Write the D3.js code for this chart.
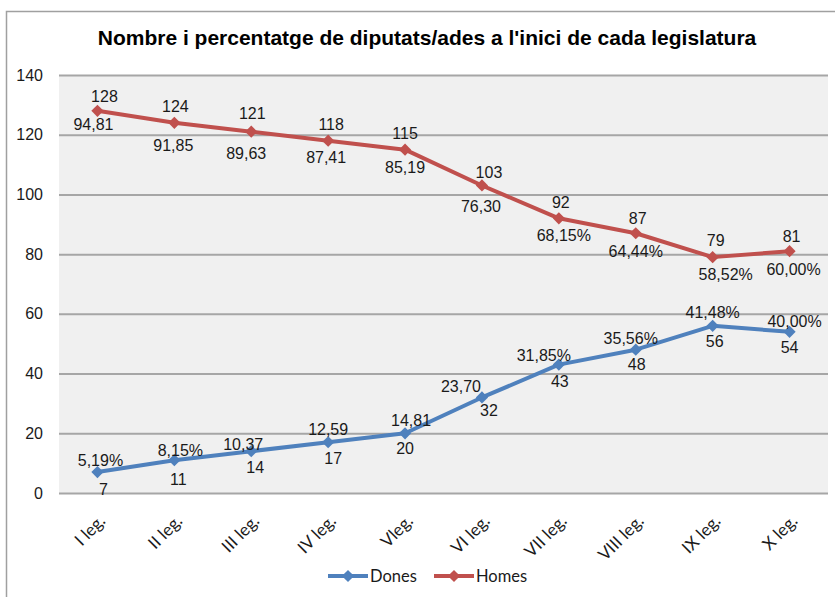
<!DOCTYPE html>
<html>
<head>
<meta charset="utf-8">
<script src="https://cdn.jsdelivr.net/npm/d3@7"></script>
<style>
  html, body { margin: 0; padding: 0; background: #fff; }
  svg { display: block; }
</style>
</head>
<body>
<svg id="chart" width="835" height="597"></svg>
<script>
// ---- data ----
const categories = ["I leg.", "II leg.", "III leg.", "IV leg.", "Vleg.", "VI leg.", "VII leg.", "VIII leg.", "IX leg.", "X leg."];
const dones = [7, 11, 14, 17, 20, 32, 43, 48, 56, 54];
const homes = [128, 124, 121, 118, 115, 103, 92, 87, 79, 81];
const donesPct = ["5,19%", "8,15%", "10,37", "12,59", "14,81", "23,70", "31,85%", "35,56%", "41,48%", "40,00%"];
const homesPct = ["94,81", "91,85", "89,63", "87,41", "85,19", "76,30", "68,15%", "64,44%", "58,52%", "60,00%"];
const yTicks = [0, 20, 40, 60, 80, 100, 120, 140];
const seriesNames = ["Dones", "Homes"];
const title = "Nombre i percentatge de diputats/ades a l'inici de cada legislatura";

// ---- label placement tweaks (layout only, px offsets from the point) ----
const homesValOff = [[7,-14],[1,-16],[1,-18],[3,-16],[0,-16],[7,-13],[2,-16],[2,-15],[3,-17],[2,-15]];
const homesPctOff = [[-4,14],[-1,23],[-5,22],[-2,17],[0,18],[-1,21],[5,17],[0,18],[13,17],[4,18]];
const donesPctOff = [[3,-12],[6,-10],[-8,-7],[0,-13],[6,-13],[-21,-11],[-15,-9],[-5,-11],[0,-13],[5,-10]];
const donesValOff = [[6,17],[4,19],[4,16],[5,16],[0,15],[7,13],[1,17],[1,15],[2,16],[0,16]];

const colors = { Dones: "#4f81bd", Homes: "#c0504d" };

const svg = d3.select("#chart");
const margin = { left: 59, right: 835 - 828, top: 75, bottom: 597 - 493 };
const W = 835, H = 597;

// outer chart border (left & top visible)
svg.append("path")
  .attr("d", `M6.5,597 L6.5,11.5 L835,11.5`)
  .attr("fill", "none").attr("stroke", "#a0a0a0").attr("stroke-width", 1.5);

const x = d3.scaleBand().domain(categories).range([margin.left, W - margin.right]).padding(0);
const y = d3.scaleLinear().domain([0, 140]).range([H - margin.bottom, margin.top]);
const cx = d => x(d) + x.bandwidth() / 2;

// plot area
svg.append("rect")
  .attr("x", margin.left).attr("y", margin.top)
  .attr("width", W - margin.right - margin.left)
  .attr("height", H - margin.bottom - margin.top)
  .attr("fill", "#f0f0f0");

// gridlines via axis
const grid = svg.append("g")
  .attr("transform", `translate(${margin.left},0)`)
  .call(d3.axisLeft(y).tickValues(yTicks).tickSize(-(W - margin.right - margin.left)).tickFormat(""));
grid.select(".domain").remove();
grid.selectAll("line").attr("stroke", "#a6a6a6").attr("stroke-width", 2);

// y axis labels
const yAxis = svg.append("g")
  .attr("transform", `translate(${margin.left},0)`)
  .call(d3.axisLeft(y).tickValues(yTicks).tickSize(0).tickPadding(16));
yAxis.select(".domain").remove();
yAxis.selectAll("text")
  .attr("font-family", "'Liberation Sans', Arial, sans-serif")
  .attr("font-size", 16).attr("fill", "#1a1a1a");

// x axis labels
const xAxis = svg.append("g")
  .attr("transform", `translate(0,${H - margin.bottom})`)
  .call(d3.axisBottom(x).tickSize(0).tickPadding(0));
xAxis.select(".domain").remove();
xAxis.selectAll("text")
  .attr("font-family", "Lato, 'Open Sans', sans-serif")
  .attr("font-size", 17).attr("fill", "#1a1a1a")
  .attr("text-anchor", "end")
  .attr("dy", 0)
  .attr("y", 0)
  .attr("transform", "translate(9,29) rotate(-45)");

// title
svg.append("text")
  .attr("x", 427).attr("y", 45)
  .attr("text-anchor", "middle")
  .attr("font-family", "'Liberation Sans', Arial, sans-serif")
  .attr("font-weight", "bold").attr("font-size", 21)
  .attr("fill", "#000")
  .text(title);

// series
const line = d3.line().x((d, i) => cx(categories[i])).y(d => y(d));
const diamond = d3.symbol().type(d3.symbolDiamond2).size(95);

[["Homes", homes], ["Dones", dones]].forEach(([name, vals]) => {
  svg.append("path").datum(vals)
    .attr("d", line)
    .attr("fill", "none").attr("stroke", colors[name]).attr("stroke-width", 4)
    .attr("stroke-linejoin", "round");
  svg.append("g").selectAll("path").data(vals).join("path")
    .attr("d", diamond)
    .attr("transform", (d, i) => `translate(${cx(categories[i])},${y(d)})`)
    .attr("fill", colors[name]);
});

// data labels
const labelFont = "'Liberation Sans', Arial, sans-serif";
function labels(vals, texts, offs) {
  svg.append("g").selectAll("text").data(vals).join("text")
    .attr("x", (d, i) => cx(categories[i]) + offs[i][0])
    .attr("y", (d, i) => y(d) + offs[i][1])
    .attr("dy", "0.35em")
    .attr("text-anchor", "middle")
    .attr("font-family", labelFont).attr("font-size", 16)
    .attr("fill", "#1a1a1a")
    .text((d, i) => texts[i]);
}
labels(homes, homes.map(String), homesValOff);
labels(homes, homesPct, homesPctOff);
labels(dones, donesPct, donesPctOff);
labels(dones, dones.map(String), donesValOff);

// legend
const legendItems = [{ name: "Dones", x0: 328 }, { name: "Homes", x0: 434 }];
const lg = svg.append("g");
legendItems.forEach(it => {
  const ly = 576;
  lg.append("line").attr("x1", it.x0).attr("x2", it.x0 + 40).attr("y1", ly).attr("y2", ly)
    .attr("stroke", colors[it.name]).attr("stroke-width", 4);
  lg.append("path").attr("d", diamond).attr("transform", `translate(${it.x0 + 20},${ly})`)
    .attr("fill", colors[it.name]);
  lg.append("text").attr("x", it.x0 + 42).attr("y", ly).attr("dy", "0.35em")
    .attr("font-family", "Lato, 'Open Sans', sans-serif").attr("font-size", 16.5)
    .attr("fill", "#1a1a1a").text(it.name);
});
</script>
</body>
</html>
